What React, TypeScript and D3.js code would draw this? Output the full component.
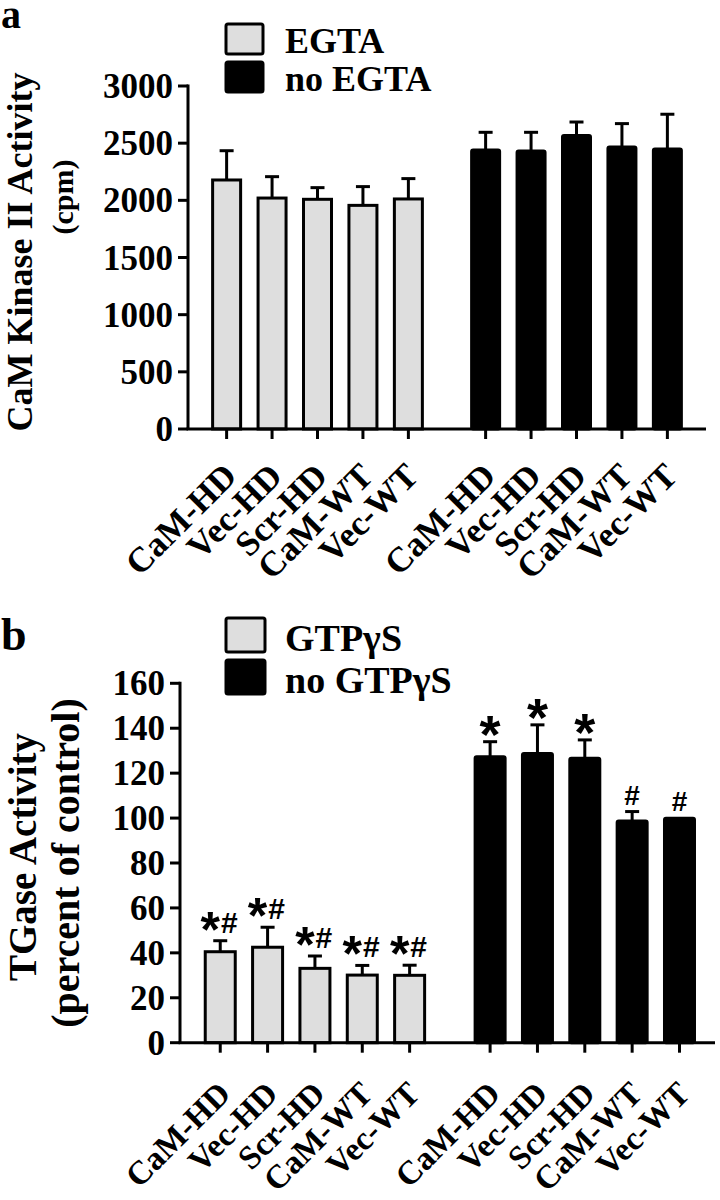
import React from 'react';
import * as d3 from 'd3';

// groups on the x axis
const categories = ['CaM-HD', 'Vec-HD', 'Scr-HD', 'CaM-WT', 'Vec-WT'];

// panel a: CaM kinase II activity (cpm), mean and error
const egtaMean = [2178, 2020, 2009, 1956, 2012];
const egtaErr = [256, 187, 102, 164, 178];
const noEgtaMean = [2440, 2432, 2566, 2467, 2450];
const noEgtaErr = [155, 163, 119, 204, 303];
const ticksA = [0, 500, 1000, 1500, 2000, 2500, 3000];

// panel b: TGase activity (percent of control)
const gtpMean = [40.5, 42.5, 33.1, 30.1, 30.0];
const gtpErr = [4.9, 8.9, 5.5, 4.3, 4.5];
const noGtpMean = [127.3, 128.8, 126.6, 98.7, 99.9];
const noGtpErr = [6.7, 12.7, 8.2, 4.2, 0];
const gtpMarks = ['*#', '*#', '*#', '*#', '*#'];
const noGtpMarks = ['*', '*', '*', '#', '#'];
const ticksB = [0, 20, 40, 60, 80, 100, 120, 140, 160];

const SERIF = '"Liberation Serif", "Times New Roman", serif';
const SANS = '"Liberation Sans", Arial, sans-serif';
const GRAY = '#dedede';

interface PanelProps {
  letter: string;
  legend: [string, string];
  first: number[];
  firstErr: number[];
  second: number[];
  secondErr: number[];
  firstMarks?: string[];
  secondMarks?: string[];
  ticks: number[];
  layout: {
    left: number;
    right: number;
    yTop: number;
    yBottom: number;
    slotEnd: number;
    barW: number;
    legendY: number;
    legendH: number;
    legendW: number;
    letterSize: number;
    letterY: number;
    title: string;
    titleX: number;
    titleY: number;
    titleSize: number;
    sub: string;
    subX: number;
    subY: number;
    subSize: number;
    legendSize: number;
    labelDy: number;
    labelSize: number;
  };
}

const Mark: React.FC<{ mark: string; x: number; y: number }> = ({ mark, x, y }) => {
  // y = where the bottom of the mark should sit
  if (mark === '*#') {
    return (
      <g>
        <text x={x - 10} y={y + 14} fontFamily={SANS} fontWeight="bold" fontSize={50} textAnchor="middle">*</text>
        <text x={x + 9} y={y} fontFamily={SANS} fontWeight="bold" fontSize={30} textAnchor="middle">#</text>
      </g>
    );
  }
  if (mark === '*') {
    return <text x={x} y={y + 19} fontFamily={SANS} fontWeight="bold" fontSize={54} textAnchor="middle">*</text>;
  }
  return <text x={x} y={y} fontFamily={SANS} fontWeight="bold" fontSize={28} textAnchor="middle">{mark}</text>;
};

const Panel: React.FC<PanelProps> = ({
  letter, legend, first, firstErr, second, secondErr, firstMarks, secondMarks, ticks, layout: L
}) => {
  const slot = (g: number, i: number) => (g === 0 ? i : 5.7 + i);
  const x = d3.scaleLinear().domain([-0.85, L.slotEnd]).range([L.left, L.right]);
  const y = d3.scaleLinear().domain([0, ticks[ticks.length - 1]]).range([L.yBottom, L.yTop]);

  const series = [
    { mean: first, err: firstErr, marks: firstMarks, fill: GRAY },
    { mean: second, err: secondErr, marks: secondMarks, fill: '#000' }
  ];

  return (
    <g>
      {/* panel letter */}
      <text x={1} y={L.letterY} fontFamily={SERIF} fontWeight="bold" fontSize={L.letterSize}>{letter}</text>

      {/* legend */}
      {series.map((s, k) => (
        <g key={`lg-${k}`}>
          <rect
            x={226}
            y={L.legendY + k * (L.legendH + 8)}
            width={L.legendW}
            height={L.legendH}
            rx={2}
            fill={s.fill}
            stroke="#000"
            strokeWidth={3}
          />
          <text
            x={285}
            y={L.legendY + k * (L.legendH + 8) + L.legendH - 1}
            fontFamily={SERIF}
            fontWeight="bold"
            fontSize={L.legendSize}
          >
            {legend[k]}
          </text>
        </g>
      ))}

      {/* y title */}
      <text
        transform={`translate(${L.titleX},${L.titleY}) rotate(-90)`}
        textAnchor="middle"
        fontFamily={SERIF}
        fontWeight="bold"
        fontSize={L.titleSize}
      >
        {L.title}
      </text>
      <text
        transform={`translate(${L.subX},${L.subY}) rotate(-90)`}
        textAnchor="middle"
        fontFamily={SERIF}
        fontWeight="bold"
        fontSize={L.subSize}
      >
        {L.sub}
      </text>

      {/* bars + error bars */}
      {series.map((s, g) =>
        s.mean.map((v, i) => {
          const cx = x(slot(g, i));
          const yv = y(v);
          const ye = y(v + s.err[i]);
          return (
            <g key={`bar-${g}-${i}`}>
              <rect
                x={cx - L.barW / 2}
                y={yv}
                width={L.barW}
                height={L.yBottom - yv}
                fill={s.fill}
                stroke="#000"
                strokeWidth={3}
                rx={g === 1 ? 1.5 : 0}
              />
              {s.err[i] > 0 && (
                <g stroke="#000" strokeWidth={3}>
                  <line x1={cx} x2={cx} y1={yv} y2={ye} />
                  <line x1={cx - 7} x2={cx + 7} y1={ye} y2={ye} />
                </g>
              )}
              {s.marks && (
                <Mark mark={s.marks[i]} x={cx} y={ye - (s.marks[i] === '#' ? 7 : 8)} />
              )}
            </g>
          );
        })
      )}

      {/* y axis */}
      <line x1={L.left} x2={L.left} y1={L.yTop - 1.5} y2={L.yBottom} stroke="#000" strokeWidth={3} />
      {ticks.map(t => (
        <g key={`yt-${t}`}>
          <line x1={L.left - 10} x2={L.left} y1={y(t)} y2={y(t)} stroke="#000" strokeWidth={3} />
          <text
            x={L.left - 15}
            y={y(t) + 12}
            textAnchor="end"
            fontFamily={SERIF}
            fontWeight="bold"
            fontSize={35}
          >
            {t}
          </text>
        </g>
      ))}

      {/* x axis */}
      <line x1={L.left - 1.5} x2={L.right} y1={L.yBottom} y2={L.yBottom} stroke="#000" strokeWidth={3} />
      {[0, 1].map(g =>
        categories.map((c, i) => {
          const cx = x(slot(g, i));
          return (
            <g key={`xt-${g}-${i}`}>
              <line x1={cx} x2={cx} y1={L.yBottom} y2={L.yBottom + 10} stroke="#000" strokeWidth={3} />
              <text
                transform={`translate(${cx + 12},${L.yBottom + L.labelDy}) rotate(-45)`}
                textAnchor="end"
                fontFamily={SERIF}
                fontWeight="bold"
                fontSize={L.labelSize}
              >
                {c}
              </text>
            </g>
          );
        })
      )}
    </g>
  );
};

export default function App() {
  return (
    <div style={{ position: 'absolute', left: 0, top: 0, background: '#fff' }}>
      <svg width={720} height={1200} style={{ display: 'block' }}>
        <rect width={720} height={1200} fill="#fff" />
        <Panel
          letter="a"
          legend={['EGTA', 'no EGTA']}
          first={egtaMean}
          firstErr={egtaErr}
          second={noEgtaMean}
          secondErr={noEgtaErr}
          ticks={ticksA}
          layout={{
            left: 188, right: 706, yTop: 86, yBottom: 429, slotEnd: 10.55, barW: 28,
            legendY: 24, legendH: 30, legendW: 37, letterSize: 40, letterY: 28,
            title: 'CaM Kinase II Activity', titleX: 32, titleY: 252, titleSize: 36,
            sub: '(cpm)', subX: 73, subY: 197, subSize: 30, legendSize: 36, labelDy: 49, labelSize: 35
          }}
        />
        <Panel
          letter="b"
          legend={['GTPγS', 'no GTPγS']}
          first={gtpMean}
          firstErr={gtpErr}
          second={noGtpMean}
          secondErr={noGtpErr}
          firstMarks={gtpMarks}
          secondMarks={noGtpMarks}
          ticks={ticksB}
          layout={{
            left: 180, right: 715, yTop: 683.3, yBottom: 1042.7, slotEnd: 10.45, barW: 30,
            legendY: 618, legendH: 34, legendW: 39, letterSize: 46, letterY: 650,
            title: 'TGase Activity', titleX: 36, titleY: 857, titleSize: 39,
            sub: '(percent of control)', subX: 79, subY: 863, subSize: 40, legendSize: 38,
            labelDy: 53, labelSize: 33
          }}
        />
      </svg>
    </div>
  );
}
